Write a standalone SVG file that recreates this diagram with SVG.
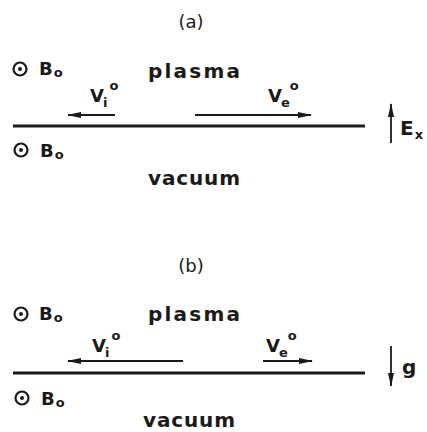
<svg xmlns="http://www.w3.org/2000/svg" width="427" height="432" viewBox="0 0 427 432">
<defs>
<marker id="ah" viewBox="0 0 14 8" refX="13" refY="4" markerWidth="14" markerHeight="8" markerUnits="userSpaceOnUse" orient="auto">
<path d="M0,1 L14,4 L0,7 Z" fill="#1a1a1a"/>
</marker>
</defs>
<style>
text{font-family:"DejaVu Sans","Liberation Sans",sans-serif;fill:#1a1a1a;font-weight:bold}
.ttl{font-size:18px;font-weight:normal}
.lbl{font-size:18px}
.big{font-size:20px}
.sm{font-size:13px}
.odot{fill:none;stroke:#1a1a1a;stroke-width:2.2}
.dot{fill:#1a1a1a}
.iface{stroke:#1a1a1a;stroke-width:3;fill:none}
.arr{stroke:#1a1a1a;stroke-width:1.8;fill:none;marker-end:url(#ah)}
</style>
<rect width="427" height="432" fill="#ffffff"/>

<g id="panel-a-title"><text class="ttl" x="191" y="28" text-anchor="middle">(a)</text></g>
<g id="a-B0-top">
<circle class="odot" cx="20" cy="69" r="6.5"/><circle class="dot" cx="20" cy="69" r="2"/>
<text class="lbl" x="39" y="75">B<tspan class="sm" dy="2" dx="1">o</tspan></text>
</g>
<g id="a-plasma"><text class="big" x="148" y="78" textLength="92" lengthAdjust="spacing">plasma</text></g>
<g id="a-Vi"><text class="lbl" x="90" y="102">V<tspan class="sm" dy="5" dx="-1">i</tspan><tspan class="sm" dy="-17" dx="2">o</tspan></text></g>
<g id="a-Ve"><text class="lbl" x="268" y="102">V<tspan class="sm" dy="5" dx="-1">e</tspan><tspan class="sm" dy="-17" dx="0">o</tspan></text></g>
<g id="a-Ex"><text class="big" x="400" y="135">E<tspan class="sm" dy="4" dx="1">x</tspan></text></g>
<g id="a-B0-bottom">
<circle class="odot" cx="21" cy="150" r="6.5"/><circle class="dot" cx="21" cy="150" r="2"/>
<text class="lbl" x="40" y="157">B<tspan class="sm" dy="2" dx="1">o</tspan></text>
</g>
<g id="a-vacuum"><text class="big" x="148" y="185" textLength="92" lengthAdjust="spacing">vacuum</text></g>

<g id="panel-b-title"><text class="ttl" x="191" y="272" text-anchor="middle">(b)</text></g>
<g id="b-B0-top">
<circle class="odot" cx="21" cy="314" r="6.5"/><circle class="dot" cx="21" cy="314" r="2"/>
<text class="lbl" x="39" y="320">B<tspan class="sm" dy="2" dx="1">o</tspan></text>
</g>
<g id="b-plasma"><text class="big" x="148" y="321" textLength="92" lengthAdjust="spacing">plasma</text></g>
<g id="b-Vi"><text class="lbl" x="92" y="352">V<tspan class="sm" dy="5" dx="-1">i</tspan><tspan class="sm" dy="-17" dx="2">o</tspan></text></g>
<g id="b-Ve"><text class="lbl" x="266" y="352">V<tspan class="sm" dy="5" dx="-1">e</tspan><tspan class="sm" dy="-17" dx="0">o</tspan></text></g>
<g id="b-g"><text class="big" x="402" y="374">g</text></g>
<g id="b-B0-bottom">
<circle class="odot" cx="22" cy="398" r="6.5"/><circle class="dot" cx="22" cy="398" r="2"/>
<text class="lbl" x="41" y="405">B<tspan class="sm" dy="2" dx="1">o</tspan></text>
</g>
<g id="b-vacuum"><text class="big" x="143" y="427" textLength="92" lengthAdjust="spacing">vacuum</text></g>

<g id="connectors">
<line class="iface" x1="13" y1="126" x2="365" y2="126"/>
<line class="arr" x1="115" y1="115" x2="68" y2="115"/>
<line class="arr" x1="195" y1="115" x2="311" y2="115"/>
<line class="arr" x1="391" y1="143" x2="391" y2="104"/>
<line class="iface" x1="13" y1="373" x2="365" y2="373"/>
<line class="arr" x1="183" y1="361" x2="68" y2="361"/>
<line class="arr" x1="263" y1="361" x2="312" y2="361"/>
<line class="arr" x1="391" y1="346" x2="391" y2="386"/>
</g>
</svg>
